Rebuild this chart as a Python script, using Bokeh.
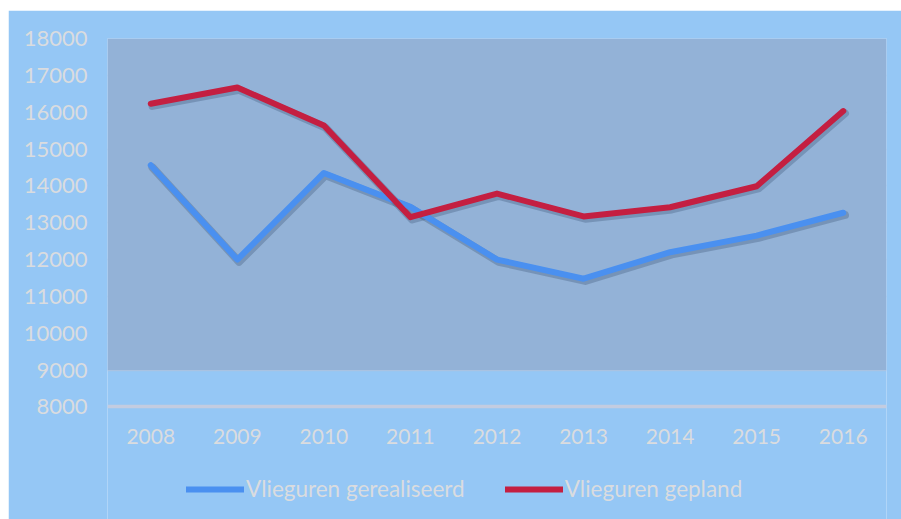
from bokeh.plotting import figure
from bokeh.models import FixedTicker, BoxAnnotation, Legend, LegendItem, ColumnDataSource, Spacer
from bokeh.layouts import column, row
from bokeh.transform import dodge
from bokeh.embed import file_html
from bokeh.resources import INLINE

years = ["2008", "2009", "2010", "2011", "2012", "2013", "2014", "2015", "2016"]
gerealiseerd = [14560, 12000, 14350, 13430, 12000, 11480, 12200, 12650, 13270]
gepland = [16230, 16670, 15640, 13150, 13790, 13170, 13420, 13990, 16030]
y_ticks = [8000, 9000, 10000, 11000, 12000, 13000, 14000, 15000, 16000, 17000, 18000]
series_names = ["Vlieguren gerealiseerd", "Vlieguren gepland"]

BG = "#95C7F5"
PLOT_BG = "#93B2D7"
TXT = "#DADCDF"
BLUE = "#4A90F0"
RED = "#C41F41"
FONT = "Lato"

src = ColumnDataSource(dict(x=years, a=gerealiseerd, b=gepland))

# frame extends below the x axis so the legend can sit inside it
p = figure(width=893, height=509, x_range=years, y_range=(4945, y_ticks[-1]),
           output_backend="svg", toolbar_location=None,
           background_fill_color=BG, border_fill_color=BG, outline_line_color=None,
           min_border_left=99, min_border_right=15, min_border_top=28, min_border_bottom=0)

p.add_layout(BoxAnnotation(bottom=y_ticks[1], top=y_ticks[-1], fill_color=PLOT_BG,
                           fill_alpha=1.0, line_color=None, level="underlay"))

p.yaxis.ticker = FixedTicker(ticks=y_ticks)
p.ygrid.ticker = FixedTicker(ticks=y_ticks[1:])
p.xgrid.grid_line_color = None
p.ygrid.grid_line_color = "#A9C3E2"
p.ygrid.grid_line_width = 1.5

for ax in (p.xaxis, p.yaxis):
    ax.major_tick_line_color = None
    ax.minor_tick_line_color = None
    ax.major_label_text_color = TXT
    ax.major_label_text_font = FONT
    ax.major_label_text_font_size = "21px"
p.yaxis.axis_line_color = None
p.yaxis.major_label_standoff = 14
p.yaxis.major_label_text_font_size = "22px"
p.xaxis.fixed_location = y_ticks[0]
p.xaxis.axis_line_color = "#C3CCE0"
p.xaxis.axis_line_width = 3.5
p.xaxis.major_label_standoff = 16

# soft shadows
p.line(x=dodge("x", 0.02, range=p.x_range), y=dodge("a", -60), source=src,
       line_color="#2B4666", line_alpha=0.28, line_width=8, line_join="round", line_cap="round")
p.line(x=dodge("x", 0.02, range=p.x_range), y=dodge("b", -60), source=src,
       line_color="#2B4666", line_alpha=0.28, line_width=8, line_join="round", line_cap="round")

r1 = p.line(x="x", y="a", source=src, line_color=BLUE, line_width=6,
            line_join="round", line_cap="round")
r2 = p.line(x="x", y="b", source=src, line_color=RED, line_width=6,
            line_join="round", line_cap="round")

legend = Legend(items=[LegendItem(label=series_names[0], renderers=[r1]),
                       LegendItem(label=series_names[1], renderers=[r2])],
                orientation="horizontal", location=(79, 17),
                glyph_width=58, glyph_height=22, label_standoff=2, spacing=40,
                padding=0, margin=0, border_line_color=None, background_fill_alpha=0,
                label_text_color=TXT, label_text_font=FONT, label_text_font_size="22.5px")
p.add_layout(legend, "center")

layout = column(Spacer(height=10, width=901),
                row(Spacer(width=8, height=509), p))

open("out.html", "w").write(file_html(layout, INLINE))
